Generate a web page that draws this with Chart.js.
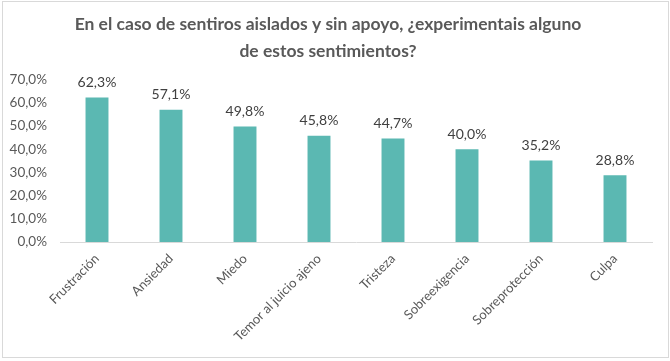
<!DOCTYPE html>
<html><head><meta charset="utf-8">
<script src="https://cdn.jsdelivr.net/npm/chart.js@4"></script>
<style>
html,body{margin:0;padding:0;background:#fff;}
canvas{display:block;position:absolute;left:0;top:0;}
#frame{position:absolute;left:2px;top:1px;width:665px;height:355px;border:1px solid #d9d9d9;pointer-events:none;}
</style></head><body>
<canvas id="c" width="670" height="361"></canvas>
<div id="frame"></div>
<script>
const categories = ["Frustración","Ansiedad","Miedo","Temor al juicio ajeno","Tristeza","Sobreexigencia","Sobreprotección","Culpa"];
const values = [62.3, 57.1, 49.8, 45.8, 44.7, 40.0, 35.2, 28.8];
const titleLines = ["En el caso de sentiros aislados y sin apoyo, ¿experimentais alguno","de estos sentimientos?"];
const fmt = v => v.toFixed(1).replace('.', ',') + '%';
const FONT = "Lato, 'Open Sans', sans-serif";

const labelPlugin = {
  id: 'barLabels',
  afterDatasetsDraw(chart) {
    const ctx = chart.ctx;
    const meta = chart.getDatasetMeta(0);
    ctx.save();
    ctx.fillStyle = '#404040';
    ctx.font = '14px ' + FONT;
    ctx.textAlign = 'center';
    ctx.textBaseline = 'bottom';
    meta.data.forEach((bar, i) => {
      ctx.fillText(fmt(values[i]), bar.x, bar.y - 8);
    });
    ctx.restore();
  }
};

new Chart(document.getElementById('c'), {
  type: 'bar',
  data: {
    labels: categories,
    datasets: [{
      data: values,
      backgroundColor: '#5BB8B2',
      barPercentage: 0.31,
      categoryPercentage: 1.0
    }]
  },
  options: {
    responsive: false,
    animation: false,
    layout: { padding: { left: 4, right: 18, top: 0, bottom: 0 } },
    plugins: {
      legend: { display: false },
      tooltip: { enabled: false },
      title: {
        display: true,
        text: titleLines,
        color: '#595959',
        font: { family: FONT, size: 17.5, weight: 'bold', lineHeight: 1.55 },
        padding: { top: 10.5, bottom: 15 }
      }
    },
    scales: {
      x: {
        grid: { display: false, drawTicks: false },
        border: { display: true, color: '#d9d9d9', width: 1 },
        afterFit(scale) { scale.height = 119; },
        ticks: {
          color: '#595959',
          font: { family: FONT, size: 13 },
          minRotation: 45, maxRotation: 45,
          padding: 9
        }
      },
      y: {
        min: 0, max: 70,
        grid: { display: false, drawTicks: false },
        border: { display: false },
        afterFit(scale) { scale.width = 56; },
        ticks: {
          stepSize: 10,
          color: '#595959',
          font: { family: FONT, size: 13.5 },
          padding: 13,
          callback: v => fmt(v)
        }
      }
    }
  },
  plugins: [labelPlugin]
});
</script>
</body></html>
